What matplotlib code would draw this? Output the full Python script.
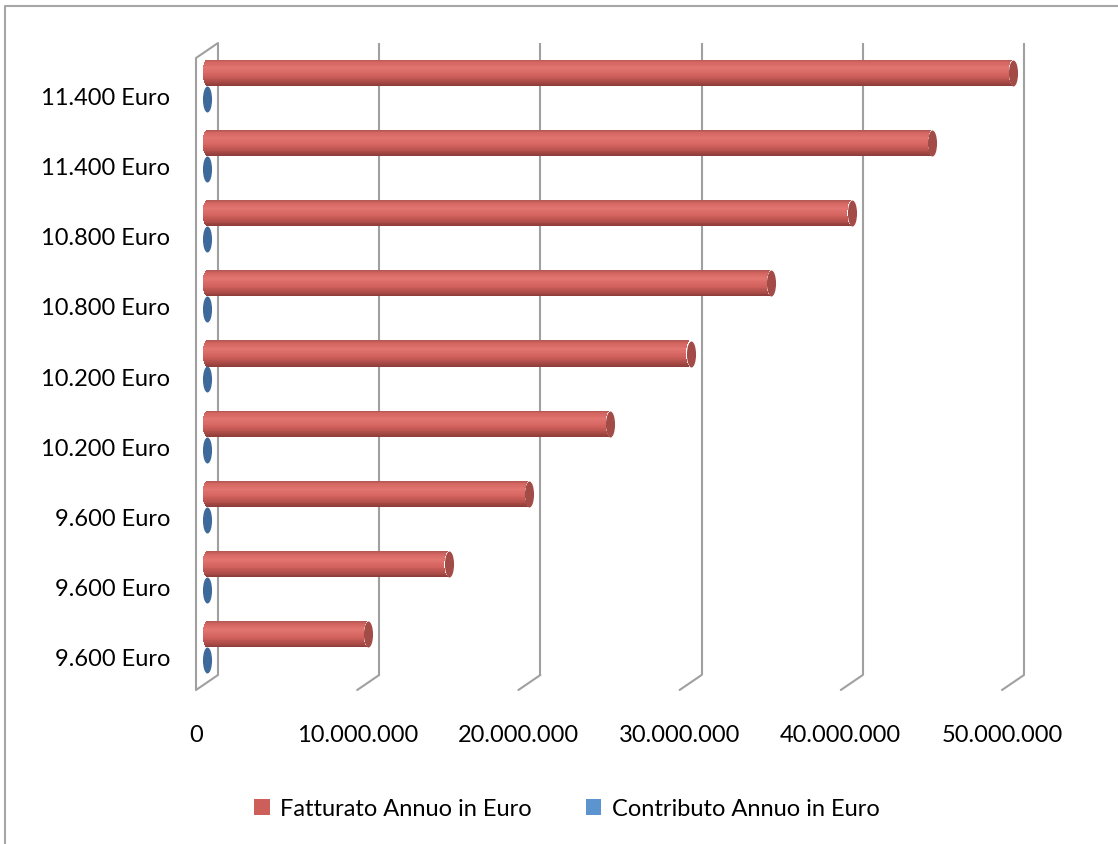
import numpy as np
import matplotlib
matplotlib.use('Agg')
import matplotlib.pyplot as plt
from matplotlib.transforms import ScaledTranslation, Affine2D
from matplotlib.path import Path
from matplotlib.patches import Patch
from matplotlib.lines import Line2D

plt.rcParams['font.family'] = ['Lato', 'DejaVu Sans']

# data (bottom to top, as drawn)
categories = ['9.600 Euro', '9.600 Euro', '9.600 Euro', '10.200 Euro', '10.200 Euro',
              '10.800 Euro', '10.800 Euro', '11.400 Euro', '11.400 Euro']
fatturato = [10e6, 15e6, 20e6, 25e6, 30e6, 35e6, 40e6, 45e6, 50e6]
contributo = [9600, 9600, 9600, 10200, 10200, 10800, 10800, 11400, 11400]
xticks = [0, 10e6, 20e6, 30e6, 40e6, 50e6]
xlabels = ['0', '10.000.000', '20.000.000', '30.000.000', '40.000.000', '50.000.000']

DPI = 100
W, H = 1118, 844
fig = plt.figure(figsize=(W / DPI, H / DPI), dpi=DPI)
# axes = back wall of the 3d box
ax = fig.add_axes([218 / W, 1 - 675 / H, (1024 - 218) / W, (675 - 43) / H])
ax.set_xlim(0, 50e6)
ax.set_ylim(-0.5, len(categories) - 0.5)
ax.axis('off')

# depth of the 3d box in pixels (front plane relative to back)
DX, DY = -22, -15
grid_c = '#a0a0a0'


def shift(dx, dy):
    return ax.transData + ScaledTranslation(dx / DPI, dy / DPI, fig.dpi_scale_trans)


ymin, ymax = ax.get_ylim()

# back wall gridlines
ax.vlines(xticks, ymin, ymax, color=grid_c, lw=1.5, zorder=1, clip_on=False)
# floor diagonals
for t in xticks:
    ax.annotate('', xy=(t, ymin), xytext=(DX, DY), textcoords='offset pixels',
                annotation_clip=False,
                arrowprops=dict(arrowstyle='-', color=grid_c, lw=1.5, shrinkA=0, shrinkB=0))
# left wall
ax.vlines([0], ymin, ymax, color=grid_c, lw=1.5, transform=shift(DX, DY), zorder=1,
          clip_on=False)
ax.annotate('', xy=(0, ymax), xytext=(DX, DY), textcoords='offset pixels',
            annotation_clip=False,
            arrowprops=dict(arrowstyle='-', color=grid_c, lw=1.5, shrinkA=0, shrinkB=0))

# cylinders
cats = np.arange(len(categories))
yF = cats + 0.185
yC = cats - 0.185
bar_h = 0.37
bar_px = 26
cap_a = 4.5  # half width of end ellipse, px
MX, MY = DX / 2, DY / 2

ell = Path(Affine2D().scale(0.35, 1.0).transform(Path.unit_circle().vertices),
           Path.unit_circle().codes)

red_stops = [(0.0, '#b05552'), (0.1, '#d2655f'), (0.32, '#e2756f'),
             (0.6, '#d2625d'), (0.82, '#b24f4b'), (1.0, '#8a3b38')]
blue_stops = [(0.0, '#4a77a8'), (0.5, '#3f6b9c'), (1.0, '#2f5580')]


def gradient(stops, n):
    pos = [s[0] for s in stops]
    rgb = np.array([matplotlib.colors.to_rgb(s[1]) for s in stops])
    u = (np.arange(n) + 0.5) / n
    return [tuple(np.interp(v, pos, rgb[:, k]) for k in range(3)) for v in u]


def cylinders(y, vals, stops, cap_color, n=30):
    cols = gradient(stops, n)
    for k, c in enumerate(cols):
        u = (k + 0.5) / n
        r = 2 * u - 1
        off = cap_a * np.sqrt(max(0.0, 1 - r * r))
        yb = np.asarray(y) + bar_h / 2 - u * bar_h
        ax.barh(yb, vals, height=bar_h / n * 1.15, left=0, color=c, lw=0,
                transform=shift(MX - off, MY), zorder=3, clip_on=False)
    ax.plot(vals, y, ls='none', marker=ell, markersize=bar_px * 72 / DPI,
            markerfacecolor=cap_color, markeredgecolor=cap_color, markeredgewidth=0,
            transform=shift(MX, MY), zorder=4, clip_on=False)


cylinders(yF, fatturato, red_stops, '#a24b47')
cylinders(yC, contributo, blue_stops, '#3d6a9b')

FS = 17
for i, lab in enumerate(categories):
    ax.text(0, cats[i], lab, transform=shift(-48, -20), ha='right', va='center',
            fontsize=FS, color='black')
for t, lab in zip(xticks, xlabels):
    ax.text(t, ymin, lab, transform=shift(DX, -60), ha='center', va='center',
            fontsize=FS, color='black')

handles = [Patch(facecolor='#cd5f5a', edgecolor='none', label='Fatturato Annuo in Euro'),
           Patch(facecolor='#5b94cf', edgecolor='none', label='Contributo Annuo in Euro')]
fig.legend(handles=handles, loc='center', bbox_to_anchor=(567 / W, 1 - 809 / H), ncol=2,
           frameon=False, fontsize=FS, handlelength=0.65, handleheight=0.65,
           handletextpad=0.45, columnspacing=2.3)

# chart border
fig.add_artist(Line2D([5 / W, 5 / W, 1.01], [-0.01, 1 - 6 / H, 1 - 6 / H],
                      transform=fig.transFigure, color='#a6a6a6', lw=1.5))

fig.savefig('out.png', dpi=DPI)
